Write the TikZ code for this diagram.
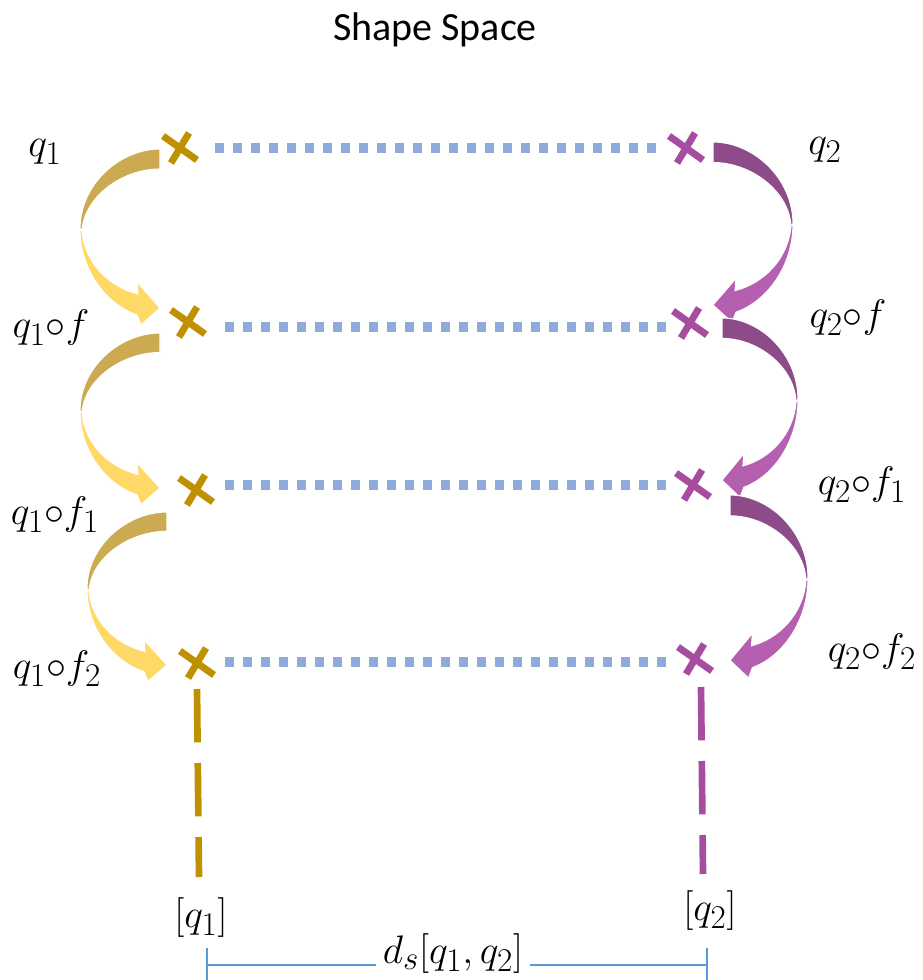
\documentclass[tikz,border=0pt]{standalone}
\usepackage{fontspec}
\newfontfamily\titlefont{Carlito}
\usetikzlibrary{calc}
\definecolor{goldX}{RGB}{191,144,0}
\definecolor{purpX}{RGB}{166,77,160}
\definecolor{goldD}{RGB}{204,170,82}
\definecolor{goldL}{RGB}{255,217,102}
\definecolor{purpD}{RGB}{142,75,138}
\definecolor{purpL}{RGB}{180,95,175}
\definecolor{dotblue}{RGB}{143,170,220}
\definecolor{lineblue}{RGB}{91,155,213}
\begin{document}
\begin{tikzpicture}[x=0.75pt,y=-0.75pt,
  lbl/.style={font=\fontsize{24.88}{30}\selectfont, scale=1.2, inner sep=0pt},
  dotline/.style={dotblue, line width=6.8pt, dash pattern=on 7pt off 6.5pt},
  vdash/.style={line width=5pt, dash pattern=on 40pt off 15.5pt},
  measure/.style={lineblue, line width=1pt},
  pics/xmark/.style={code={
    \draw[line width=5.2pt,#1] (-17,-12) -- (17,12) (9,-15) -- (-9,15);
  }},
  pics/carrow/.style 2 args={code={
    \fill[#1, draw=white, line width=0.8pt]
      (0,0) .. controls (-40,0) and (-80,35) .. (-80,80)
      -- (-78,82) .. controls (-76,48) and (-38,20) .. (0,20) -- cycle;
    \fill[#2, draw=white, line width=0.8pt]
      (-80,80) .. controls (-80,120) and (-55,155) .. (-23,166)
      -- (-19,176) -- (0,159) -- (-23,133) -- (-22,145)
      .. controls (-50,138) and (-75,115) .. (-78,82) -- cycle;
  }}
]
\useasboundingbox (0,0) rectangle (922,980);

% title
\node[font=\titlefont\fontsize{30}{36}\selectfont, inner sep=0pt] (title) at (435,30) {Shape Space};

% cross positions
\coordinate (L1) at (180,148);
\coordinate (L2) at (188,322);
\coordinate (L3) at (196,490);
\coordinate (L4) at (197,663);
\coordinate (R1) at (686,148);
\coordinate (R2) at (690,323);
\coordinate (R3) at (693,485);
\coordinate (R4) at (695,659);

% dotted connectors
\draw[dotline] ($(L1)+(35,0)$) -- ($(R1)+(-28,0)$);
\draw[dotline] ($(L2)+(37,5)$) -- ($(R2)+(-22,4)$);
\draw[dotline] ($(L3)+(29,-5)$) -- ($(R3)+(-23,0)$);
\draw[dotline] ($(L4)+(28,-1)$) -- ($(R4)+(-27,3)$);

% curved arrows
\pic at (160,149) {carrow={goldD}{goldL}};
\pic[yscale=0.975] at (160,333) {carrow={goldD}{goldL}};
\pic[yscale=0.962] at (167,512) {carrow={goldD}{goldL}};
\pic[xscale=-1,yscale=1.025] at (713,142) {carrow={purpD}{purpL}};
\pic[xscale=-0.95,yscale=1.02] at (722,318) {carrow={purpD}{purpL}};
\pic[xscale=-0.975,yscale=1.04] at (730,495) {carrow={purpD}{purpL}};

% crosses
\foreach \p in {L1,L2,L3,L4} \pic at (\p) {xmark=goldX};
\foreach \p in {R1,R2,R3,R4} \pic at (\p) {xmark=purpX};

% vertical dashed lines
\coordinate (BL) at (199,877);
\coordinate (BR) at (703,874);
\draw[vdash, goldX] ($(L4)+(0,26)$) -- (BL);
\draw[vdash, purpX] ($(R4)+(6,28)$) -- (BR);

% labels
\node[lbl] (tq1) at (45,152) {$q_1$};
\node[lbl] (tq1f) at (51,328) {$q_1{\circ}f$};
\node[lbl] (tq1f1) at (55,515) {$q_1{\circ}f_1$};
\node[lbl] (tq1f2) at (57,669) {$q_1{\circ}f_2$};
\node[lbl] (tq2) at (825,150) {$q_2$};
\node[lbl] (tq2f) at (848,318) {$q_2{\circ}f$};
\node[lbl] (tq2f1) at (862,485) {$q_2{\circ}f_1$};
\node[lbl] (tq2f2) at (872,652) {$q_2{\circ}f_2$};
\node[lbl] (cq1) at (201,918) {$[q_1]$};
\node[lbl] (cq2) at (710,911) {$[q_2]$};
\node[lbl, inner xsep=4pt] (ds) at (453,954) {$d_s[q_1,q_2]$};

% measure line
\coordinate (TL) at (207,965);
\coordinate (TR) at (707,965);
\draw[measure] (207,948) -- (207,980);
\draw[measure] (707,948) -- (707,980);
\draw[measure] (TL) -- (TL -| ds.west);
\draw[measure] (ds.east |- TR) -- (TR);
\end{tikzpicture}
\end{document}
